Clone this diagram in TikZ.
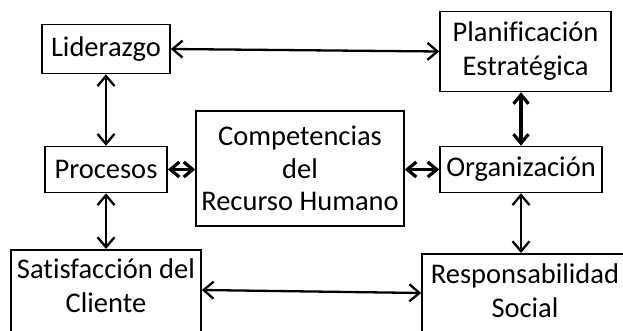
\documentclass[tikz,border=0pt]{standalone}
\usepackage{fontspec}
\setmainfont{Carlito}[Ligatures=NoCommon]
\usetikzlibrary{arrows.meta}

\begin{document}
\begin{tikzpicture}[x=1pt,y=-1pt,
    caja/.style={draw, line width=1.6pt, align=center, inner xsep=2pt,
      font=\fontsize{28.5}{34}\selectfont},
    flecha/.style={line width=2.3pt,
      {Straight Barb[length=10pt,width=17pt]}-{Straight Barb[length=10pt,width=17pt]}},
    flechagruesa/.style={line width=3.2pt,
      {Straight Barb[length=9pt,width=15pt]}-{Straight Barb[length=9pt,width=15pt]}}]
  \clip (0,0) rectangle (623,331);
  \node[caja, minimum width=128pt, minimum height=49pt] (lider) at (106,49) {Liderazgo};
  \node[caja, minimum width=171pt, minimum height=80pt] (plan) at (525.5,51.5)
    {Planificación\\Estratégica};
  \node[caja, minimum width=208pt, minimum height=115pt] (comp) at (300,168.5)
    {Competencias\\[-1.5pt]del\\[-1.5pt]Recurso Humano};
  \node[caja, minimum width=122pt, minimum height=46pt] (proc) at (106,169.5) {Procesos};
  \node[caja, minimum width=162pt, minimum height=46pt] (org) at (521,169.5) {Organización};
  \node[caja, anchor=north, minimum width=190pt, inner ysep=9pt] (satis) at (106,249)
    {Satisfacción del\\Cliente\rule[-24pt]{0pt}{24pt}};
  \node[caja, anchor=north, minimum width=206pt, inner ysep=10pt] (resp) at (525,253)
    {Responsabilidad\\Social\rule[-24pt]{0pt}{24pt}};
  % conexiones
  \draw[flecha] (lider.east) -- (plan.west);
  \draw[flecha] (lider.south) -- (proc.north);
  \draw[flecha] (proc.south) -- (satis.north);
  \draw[flechagruesa] (org.north |- plan.south) -- (org.north);
  \draw[flecha] (org.south) -- (org.south |- resp.north);
  \draw[flechagruesa] (proc.east) -- (comp.west |- proc.east);
  \draw[flechagruesa] (comp.east |- org.west) -- (org.west);
  \draw[flecha] ([yshift=-41pt]satis.north east) -- ([yshift=-40pt]resp.north west);
\end{tikzpicture}
\end{document}
